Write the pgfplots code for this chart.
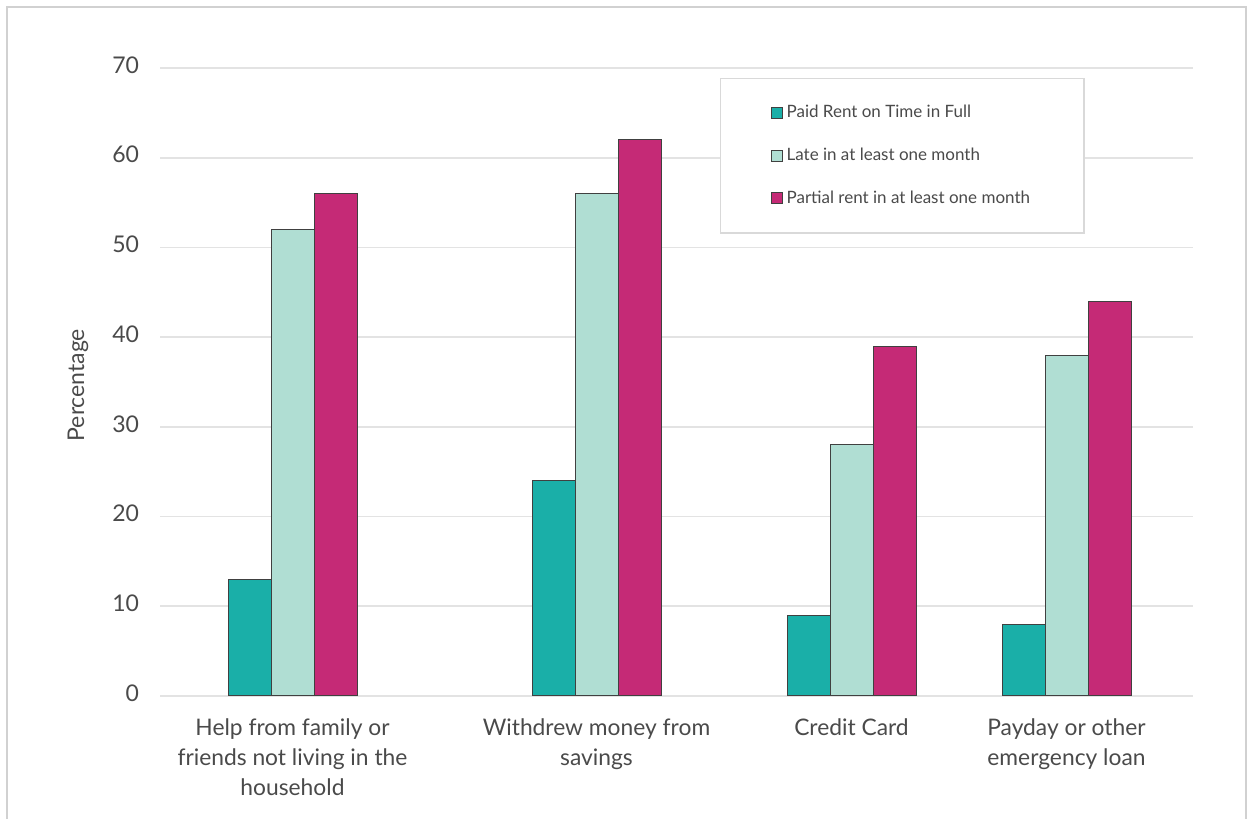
\documentclass[border=0pt]{standalone}
\usepackage{fontspec}
\setmainfont{Lato}
\usepackage{pgfplots}
\pgfplotsset{compat=1.18}
\definecolor{cteal}{HTML}{1AAFA8}
\definecolor{cmint}{HTML}{B0DED3}
\definecolor{cmag}{HTML}{C52A76}
\definecolor{cgrid}{HTML}{E3E3E3}
\definecolor{ctext}{HTML}{4A4A4A}
\begin{document}
\begin{tikzpicture}[x=1pt,y=1pt]
\useasboundingbox (0,0) rectangle (625,409.5);
\draw[color=black!18, line width=1pt] (3.5,0) -- (3.5,406) -- (623,406) -- (623,0);
\begin{axis}[
  at={(80pt,61.5pt)}, anchor=south west,
  scale only axis, width=516.5pt, height=314pt,
  xmin=160, xmax=1193, ymin=0, ymax=70,
  axis line style={draw=none},
  major tick length=0pt,
  ytick={0,10,...,70},
  ymajorgrids, grid style={cgrid, line width=0.8pt},
  xtick={292.5,596.5,851.5,1066.5},
  xticklabels={{Help from family or\\friends not living in the\\household},{Withdrew money from\\savings},{Credit Card},{Payday or other\\emergency loan}},
  xticklabel style={align=center, font=\fontsize{11.4}{15}\selectfont, color=ctext, yshift=-8pt},
  yticklabel style={font=\fontsize{11.5}{12}\selectfont, color=ctext, xshift=-7pt, yshift=1.5pt},
  /pgf/number format/assume math mode=true,
  ylabel={Percentage},
  ylabel style={at={(axis description cs:-0.0794,0.495)}, anchor=center, rotate=0, font=\fontsize{11.5}{12}\selectfont, color=ctext},
  bar width=43,
  legend cell align=left,
  legend style={at={(axis cs:720,68.9)}, anchor=north west, draw=black!15, line width=0.6pt,
    font=\fontsize{8.5}{10}\selectfont, text=ctext,
    inner xsep=25pt, inner ysep=11.5pt, row sep=9.5pt,
    /tikz/every even column/.append style={column sep=2.5pt}},
  legend image code/.code={\draw[#1, line width=0.4pt] (0pt,-2.8pt) rectangle (5.6pt,2.8pt);},
]
\addplot[ybar, bar shift=0pt, fill=cteal, draw=black!75, line width=0.5pt] coordinates {(249.5,13) (553.5,24) (808.5,9) (1023.5,8)};
\addlegendentry{Paid Rent on Time in Full}
\addplot[ybar, bar shift=0pt, fill=cmint, draw=black!75, line width=0.5pt] coordinates {(292.5,52) (596.5,56) (851.5,28) (1066.5,38)};
\addlegendentry{Late in at least one month}
\addplot[ybar, bar shift=0pt, fill=cmag, draw=black!75, line width=0.5pt] coordinates {(335.5,56) (639.5,62) (894.5,39) (1109.5,44)};
\addlegendentry{Partial rent in at least one month}
\end{axis}
\end{tikzpicture}
\end{document}
